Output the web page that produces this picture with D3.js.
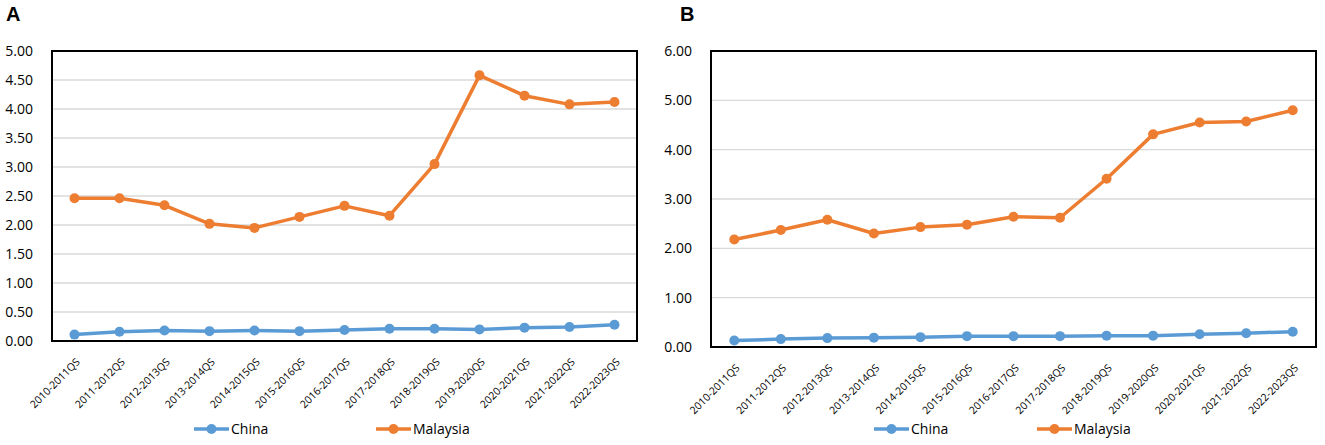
<!DOCTYPE html>
<html>
<head>
<meta charset="utf-8">
<script src="https://cdn.jsdelivr.net/npm/d3@7"></script>
<style>
  body { margin: 0; background: #fff; }
  svg { font-family: 'Open Sans', 'Noto Sans', sans-serif; }
</style>
</head>
<body>
<svg id="chart" width="1325" height="445"></svg>
<script>
var periods = ['2010-2011QS', '2011-2012QS', '2012-2013QS', '2013-2014QS', '2014-2015QS',
    '2015-2016QS', '2016-2017QS', '2017-2018QS', '2018-2019QS', '2019-2020QS',
    '2020-2021QS', '2021-2022QS', '2022-2023QS'];

var chinaA = [0.11, 0.16, 0.18, 0.17, 0.18, 0.17, 0.19, 0.21, 0.21, 0.20, 0.23, 0.24, 0.28];
var malaysiaA = [2.46, 2.46, 2.34, 2.02, 1.95, 2.14, 2.33, 2.16, 3.05, 4.58, 4.23, 4.08, 4.12];
var ticksA = [0, 0.5, 1, 1.5, 2, 2.5, 3, 3.5, 4, 4.5, 5];

var chinaB = [0.13, 0.16, 0.18, 0.19, 0.20, 0.22, 0.22, 0.22, 0.23, 0.23, 0.26, 0.28, 0.31];
var malaysiaB = [2.18, 2.37, 2.58, 2.30, 2.43, 2.48, 2.64, 2.62, 3.41, 4.31, 4.55, 4.57, 4.80];
var ticksB = [0, 1, 2, 3, 4, 5, 6];

var seriesNames = ['China', 'Malaysia'];
var colors = { China: '#5b9bd5', Malaysia: '#ed7d31' };

var svg = d3.select('#chart');

function drawPanel(opt) {
    var x = d3.scalePoint()
        .domain(periods)
        .range([opt.left, opt.right])
        .padding(0.5);

    var y = d3.scaleLinear()
        .domain([0, d3.max(opt.ticks)])
        .range([opt.bottom, opt.top]);

    var g = svg.append('g');

    // panel letter
    g.append('text')
        .attr('x', opt.letterX).attr('y', 21)
        .attr('font-family', 'Liberation Sans, Arial, sans-serif')
        .attr('font-weight', 'bold')
        .attr('font-size', '20px')
        .text(opt.letter);

    // gridlines
    g.selectAll('line.grid')
        .data(opt.ticks.slice(1))
        .enter()
        .append('line')
        .attr('class', 'grid')
        .attr('x1', opt.left).attr('x2', opt.right)
        .attr('y1', function(d){ return y(d); })
        .attr('y2', function(d){ return y(d); })
        .attr('stroke', '#d9d9d9')
        .attr('stroke-width', 1.3);

    // y axis labels
    var yAxis = g.append('g')
        .attr('transform', 'translate(' + opt.left + ',0)')
        .call(d3.axisLeft(y).tickValues(opt.ticks).tickFormat(d3.format('.2f')).tickSize(0).tickPadding(19));
    yAxis.select('.domain').remove();
    yAxis.selectAll('text')
        .attr('fill', '#000')
        .style('font-size', '14px')
        .style('font-family', "'Open Sans', 'Noto Sans', sans-serif");

    // x axis labels
    var xAxis = g.append('g')
        .attr('transform', 'translate(0,' + opt.bottom + ')')
        .call(d3.axisBottom(x).tickSize(0).tickPadding(0));
    xAxis.select('.domain').remove();
    xAxis.selectAll('text')
        .attr('fill', '#000')
        .attr('text-anchor', 'end')
        .attr('dy', '0.35em')
        .attr('transform', 'translate(3,19) rotate(-45)')
        .style('font-size', '10.5px')
        .style('font-family', "'Open Sans', 'Noto Sans', sans-serif");

    // lines and points
    var sets = [
        { name: 'China', values: opt.china },
        { name: 'Malaysia', values: opt.malaysia }
    ];
    var line = d3.line()
        .x(function(d, i){ return x(periods[i]); })
        .y(function(d){ return y(d); });

    sets.forEach(function(s) {
        g.append('path')
            .datum(s.values)
            .attr('fill', 'none')
            .attr('stroke', colors[s.name])
            .attr('stroke-width', 3.5)
            .attr('stroke-linejoin', 'round')
            .attr('d', line);
        g.selectAll('circle.' + s.name)
            .data(s.values)
            .enter()
            .append('circle')
            .attr('class', s.name)
            .attr('cx', function(d, i){ return x(periods[i]); })
            .attr('cy', function(d){ return y(d); })
            .attr('r', 5)
            .attr('fill', colors[s.name]);
    });

    // plot frame
    g.append('rect')
        .attr('x', opt.left).attr('y', opt.top)
        .attr('width', opt.right - opt.left)
        .attr('height', opt.bottom - opt.top)
        .attr('fill', 'none')
        .attr('stroke', '#000')
        .attr('stroke-width', 2);

    // legend
    var legend = g.append('g');
    seriesNames.forEach(function(name, i) {
        var lx = opt.legendX[i];
        legend.append('line')
            .attr('x1', lx).attr('x2', lx + 35)
            .attr('y1', 429).attr('y2', 429)
            .attr('stroke', colors[name]).attr('stroke-width', 3.5);
        legend.append('circle')
            .attr('cx', lx + 17.5).attr('cy', 429).attr('r', 5)
            .attr('fill', colors[name]);
        legend.append('text')
            .attr('x', lx + 37).attr('y', 434)
            .attr('font-size', '14px')
            .text(name);
    });
}

drawPanel({
    letter: 'A', letterX: 6,
    left: 52, right: 637, top: 51, bottom: 341,
    ticks: ticksA, china: chinaA, malaysia: malaysiaA,
    legendX: [194, 376]
});

drawPanel({
    letter: 'B', letterX: 680,
    left: 711, right: 1316, top: 51, bottom: 347,
    ticks: ticksB, china: chinaB, malaysia: malaysiaB,
    legendX: [874, 1037]
});
</script>
</body>
</html>
